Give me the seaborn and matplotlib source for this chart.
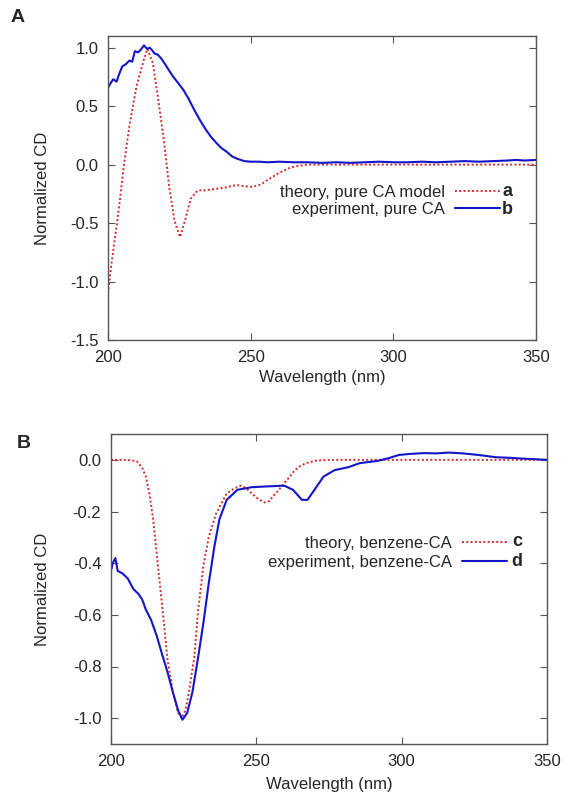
import numpy as np
import matplotlib
matplotlib.use("Agg")
import matplotlib.pyplot as plt
import seaborn as sns

# Panel A: pure CA
wl_a_theory = [200, 201.2, 203.7, 205.6, 207.5, 210, 212.6, 213.8, 215.7, 217.6, 219.5,
               221.4, 223.3, 225.2, 227, 229, 231.5, 234, 237, 240.3, 243, 245.3,
               248, 250.4, 252.5, 254.2, 256, 258, 260, 261.8, 264, 266.8, 270, 290, 320, 350]
cd_a_theory = [-1.1, -0.85, -0.40, 0.0, 0.33, 0.67, 0.90, 0.99, 0.87, 0.56, 0.22,
               -0.18, -0.48, -0.62, -0.48, -0.29, -0.22, -0.22, -0.21, -0.20, -0.185, -0.175,
               -0.185, -0.19, -0.18, -0.16, -0.13, -0.10, -0.07, -0.05, -0.025, -0.01, 0.0, 0.0, 0.0, 0.0]

wl_a_exp = [200, 201, 201.8, 203, 204, 205, 206.3, 207.5, 208.5, 209.4, 210.5, 211.4,
            212.6, 213.3, 213.8, 214.6, 215.4, 216.3, 217.5, 218.9, 220.5, 222.6, 224.5,
            226.4, 228.3, 230.2, 232, 234, 236, 237.8, 239.8, 241.6, 243.5, 245.3, 247.8,
            250, 252.9, 256, 260, 265, 270, 275, 280, 285, 290, 295, 300, 305, 310, 315,
            320, 325, 330, 335, 340, 343, 346, 350]
cd_a_exp = [0.66, 0.70, 0.73, 0.71, 0.78, 0.84, 0.86, 0.89, 0.88, 0.97, 0.96, 0.98,
            1.02, 1.00, 0.99, 1.00, 0.98, 0.95, 0.94, 0.90, 0.84, 0.76, 0.70,
            0.64, 0.56, 0.47, 0.39, 0.31, 0.24, 0.19, 0.14, 0.11, 0.07, 0.05, 0.03,
            0.025, 0.025, 0.02, 0.025, 0.02, 0.02, 0.015, 0.02, 0.015, 0.02, 0.025, 0.02,
            0.02, 0.025, 0.02, 0.025, 0.03, 0.025, 0.03, 0.035, 0.04, 0.035, 0.04]

# Panel B: benzene-CA
wl_b_theory = [200, 203, 205, 207, 208.9, 210.7, 212, 213.2, 214.5, 215.7, 216.9, 218.2,
               219.4, 221.3, 223.1, 224.3, 225.6, 226.8, 228.7, 229.9, 231.8, 233.6,
               236.1, 239.8, 242.5, 244.7, 246.5, 248.4, 250.5, 252.8, 254.5, 255.8,
               257.5, 259.6, 261.5, 263.3, 265, 267, 270.7, 275, 300, 350]
cd_b_theory = [0.0, 0.0, 0.0, -0.002, -0.006, -0.03, -0.065, -0.13, -0.23, -0.36, -0.49, -0.63,
               -0.77, -0.90, -0.98, -1.0, -0.97, -0.90, -0.76, -0.59, -0.41, -0.30,
               -0.21, -0.13, -0.11, -0.10, -0.11, -0.13, -0.15, -0.165, -0.16, -0.14,
               -0.12, -0.09, -0.065, -0.04, -0.025, -0.013, -0.003, 0.0, 0.0, 0.0]

wl_b_exp = [200, 200.6, 201.5, 202.3, 204, 205.8, 207.7, 209.5, 210.7, 212, 213.8, 215.7,
            217.5, 219.4, 221.3, 223.1, 224.6, 226.2, 228, 229.9, 231.8, 233.6, 235.5,
            237.3, 239.8, 243.5, 248.4, 253.4, 259.6, 262.6, 264.5, 265.7, 267.6, 270,
            273.1, 276.9, 281.8, 285.5, 291.7, 295.4, 299.1, 303, 307.7, 312, 316.4, 321,
            326.3, 332.5, 337, 341, 345, 350]
cd_b_exp = [-0.43, -0.40, -0.38, -0.43, -0.44, -0.46, -0.50, -0.52, -0.54, -0.58, -0.62, -0.68,
            -0.75, -0.82, -0.90, -0.97, -1.006, -0.98, -0.90, -0.77, -0.63, -0.48, -0.34,
            -0.23, -0.155, -0.116, -0.106, -0.103, -0.10, -0.116, -0.14, -0.155, -0.155, -0.116,
            -0.065, -0.04, -0.028, -0.013, -0.004, 0.006, 0.019, 0.023, 0.026, 0.025, 0.028, 0.025,
            0.019, 0.01, 0.008, 0.005, 0.003, 0.0]

sns.set_style("ticks")
plt.rcParams["font.family"] = ["Liberation Sans", "DejaVu Sans"]
plt.rcParams["axes.unicode_minus"] = False
plt.rcParams["font.size"] = 12

red = "#d42a2a"
blue = "#1414c8"
spine_col = "#555555"

fig = plt.figure(figsize=(5.64, 7.95), dpi=100)
ax_a = fig.add_axes([108 / 564, 1 - 340 / 795, 428 / 564, 304 / 795])
ax_b = fig.add_axes([111 / 564, 1 - 744 / 795, 436 / 564, 310 / 795])

panels = [
    (ax_a, wl_a_theory, cd_a_theory, wl_a_exp, cd_a_exp,
     "theory, pure CA model", "experiment, pure CA", ("a", "b"),
     (-1.5, 1.1), [-1.5, -1.0, -0.5, 0.0, 0.5, 1.0], (0.916, 0.51), 0.1,
     0.934, (0.487, 0.428), -0.10, -0.135),
    (ax_b, wl_b_theory, cd_b_theory, wl_b_exp, cd_b_exp,
     "theory, benzene-CA", "experiment, benzene-CA", ("c", "d"),
     (-1.1, 0.1), [-1.0, -0.8, -0.6, -0.4, -0.2, 0.0], (0.908, 0.672), 0.25,
     0.931, (0.652, 0.588), -0.105, -0.14),
]

for (ax, wt, ct, we, ce, lab_t, lab_e, letters, ylim, yticks,
     anchor, spacing, letter_x, letter_y, xlab_y, ylab_x) in panels:
    sns.lineplot(x=wt, y=ct, ax=ax, color=red, linestyle=(0, (1, 1.2)), lw=1.4, label=lab_t)
    sns.lineplot(x=we, y=ce, ax=ax, color=blue, lw=1.5, label=lab_e)
    ax.set_xlim(200, 350)
    ax.set_ylim(*ylim)
    ax.set_xticks([200, 250, 300, 350])
    ax.set_yticks(yticks)
    ax.set_yticklabels([f"{v:.1f}" for v in yticks])
    ax.tick_params(direction="in", top=True, right=True, length=5, width=0.8,
                   color=spine_col, labelsize=12, pad=7)
    for s in ax.spines.values():
        s.set_color(spine_col)
        s.set_linewidth(1.0)
    ax.set_xlabel("Wavelength (nm)", fontsize=12)
    ax.set_ylabel("Normalized CD", fontsize=12)
    ax.xaxis.set_label_coords(0.5, xlab_y)
    ax.yaxis.set_label_coords(ylab_x, 0.5)
    ax.legend(loc="upper right", bbox_to_anchor=anchor, frameon=False, markerfirst=False,
              handlelength=2.7, handletextpad=0.6, labelspacing=spacing, borderpad=0,
              borderaxespad=0, fontsize=12)
    for letter, ly in zip(letters, letter_y):
        ax.text(letter_x, ly, letter, transform=ax.transAxes, fontsize=13,
                fontweight="bold", ha="center", va="center")

fig.text(18 / 564, 1 - 18 / 795, "A", fontsize=14, fontweight="bold", ha="center", va="center")
fig.text(24 / 564, 1 - 443 / 795, "B", fontsize=14, fontweight="bold", ha="center", va="center")

fig.savefig("out.png", dpi=100)
